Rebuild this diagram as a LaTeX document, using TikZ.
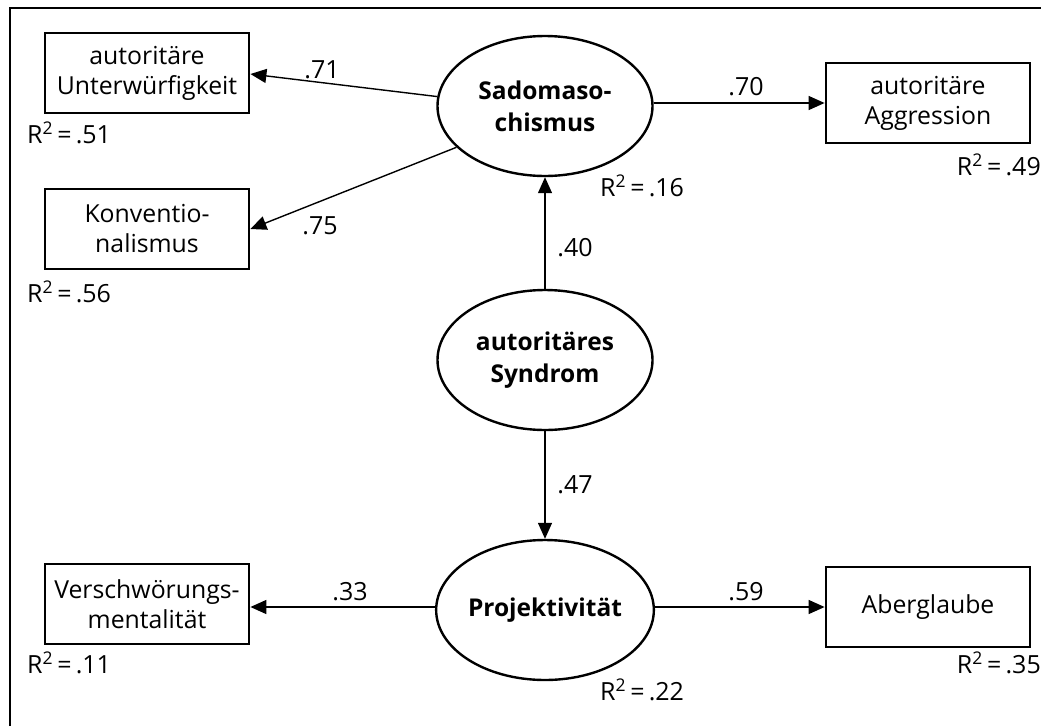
\documentclass[tikz,border=0pt]{standalone}
\usepackage{fontspec}
\setmainfont{Open Sans}
\usetikzlibrary{arrows.meta,shapes.geometric}
\begin{document}
\begin{tikzpicture}[x=1pt,y=-1pt,
  obsbox/.style={draw, line width=2.8pt, minimum width=204pt, minimum height=80pt, align=center, inner sep=0pt, font=\fontsize{24.8}{30}\selectfont},
  latent/.style={draw, ellipse, line width=2.4pt, minimum width=215pt, minimum height=140pt, inner sep=0pt, align=center, font=\bfseries\fontsize{24.5}{32}\selectfont},
  pathar/.style={line width=1.4pt, -{Triangle[length=16pt,width=14pt]}},
  lab/.style={font=\fontsize{25}{28}\selectfont, inner sep=0pt},
  rsq/.style={font=\fontsize{25}{28}\selectfont, inner sep=0pt}]
\useasboundingbox (0,0) rectangle (1041,726);
% frame
\draw[line width=1.8pt] (10,726) -- (10,8) -- (1041,8);
% latent variables
\node[latent] (sado) at (545,106) {Sadomaso-\\chismus};
\node[latent] (synd) at (545,360) {autoritäres\\Syndrom};
\node[latent] (proj) at (545,610) {Projektivität};
% observed
\node[obsbox] (unter) at (147,73) {autoritäre\\Unterwürfigkeit};
\node[obsbox] (konv) at (147,229) {Konventio-\\nalismus};
\node[obsbox] (aggr) at (928,103) {autoritäre\\Aggression};
\node[obsbox] (versch) at (147,604) {Verschwörungs-\\mentalität};
\node[obsbox] (aber) at (928,607) {Aberglaube};
% paths
\draw[pathar] (sado.175) -- (unter.east |- 0,74);
\draw[pathar] (sado.205) -- (konv.east |- 0,229);
\draw[pathar] (sado.east |- 0,103) -- (aggr.west |- 0,103);
\draw[pathar] (synd.north) -- (sado.south);
\draw[pathar] (synd.south) -- (proj.north);
\draw[pathar] (proj.west |- 0,607) -- (versch.east |- 0,607);
\draw[pathar] (proj.east |- 0,607) -- (aber.west |- 0,607);
% path labels
\node[lab] (l71) at (322,70) {.71};
\node[lab] (l75) at (320,226) {.75};
\node[lab] (l70) at (746,87) {.70};
\node[lab] (l40) at (575,248) {.40};
\node[lab] (l47) at (575,485) {.47};
\node[lab] (l33) at (350,592) {.33};
\node[lab] (l59) at (746,592) {.59};
% R squared
\node[rsq, anchor=west] (r51) at (27,133) {R\textsuperscript{2}\,=\,.51};
\node[rsq, anchor=west] (r56) at (27,292) {R\textsuperscript{2}\,=\,.56};
\node[rsq, anchor=west] (r16) at (600,186) {R\textsuperscript{2}\,=\,.16};
\node[rsq, anchor=east] (r49) at (1041,165) {R\textsuperscript{2}\,=\,.49};
\node[rsq, anchor=west] (r11) at (27,663) {R\textsuperscript{2}\,=\,.11};
\node[rsq, anchor=west] (r22) at (600,690) {R\textsuperscript{2}\,=\,.22};
\node[rsq, anchor=east] (r35) at (1041,663) {R\textsuperscript{2}\,=\,.35};
\end{tikzpicture}
\end{document}
